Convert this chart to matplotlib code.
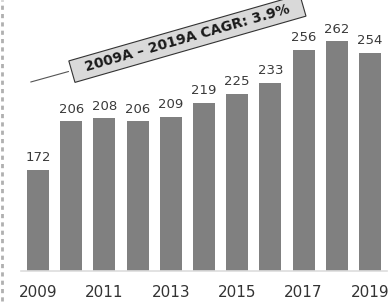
import matplotlib.pyplot as plt
from matplotlib.lines import Line2D

# data
years = ['2009', '2010', '2011', '2012', '2013', '2014', '2015', '2016', '2017', '2018', '2019']
values = [172, 206, 208, 206, 209, 219, 225, 233, 256, 262, 254]
tick_years = ['2009', '2011', '2013', '2015', '2017', '2019']
cagr_text = '  2009A \u2013 2019A CAGR: 3.9%  '

fig = plt.figure(figsize=(3.92, 3.07), dpi=100)
ax = fig.add_axes([0.0546, 0.117, 0.9316, 0.883])

x = list(range(len(years)))
ax.bar(x, values, width=0.66, color='#808080', zorder=2)

for xi, v in zip(x, values):
    ax.text(xi, v + 4, str(v), ha='center', va='bottom', fontsize=9.5, color='#3a3a3a')

ax.set_xlim(-0.5, 10.5)
ax.set_ylim(101, 291)
ax.set_yticks([])
ax.set_xticks([years.index(t) for t in tick_years])
ax.set_xticklabels(tick_years, fontsize=11, color='#333333')
ax.tick_params(axis='x', length=0, pad=10)
for s in ['top', 'right', 'left']:
    ax.spines[s].set_visible(False)
ax.spines['bottom'].set_color('#dddddd')
ax.spines['bottom'].set_linewidth(1.2)

# CAGR callout
ax.annotate(cagr_text, xy=(-0.3, 233), xytext=(4.5, 264),
            ha='center', va='center', rotation=16,
            fontsize=10, fontweight='bold', color='#1a1a1a',
            bbox=dict(boxstyle='square,pad=0.3', facecolor='#d9d9d9', edgecolor='#333333', linewidth=0.8),
            arrowprops=dict(arrowstyle='-', color='#555555', linewidth=0.8),
            annotation_clip=False, zorder=5)

# dashed line on the left edge
fig.add_artist(Line2D([0.006, 0.006], [0.02, 1.0], transform=fig.transFigure,
                      color='#b0b0b0', linewidth=2, linestyle=(0, (1.5, 1.5))))

fig.savefig('out.png', dpi=100)
